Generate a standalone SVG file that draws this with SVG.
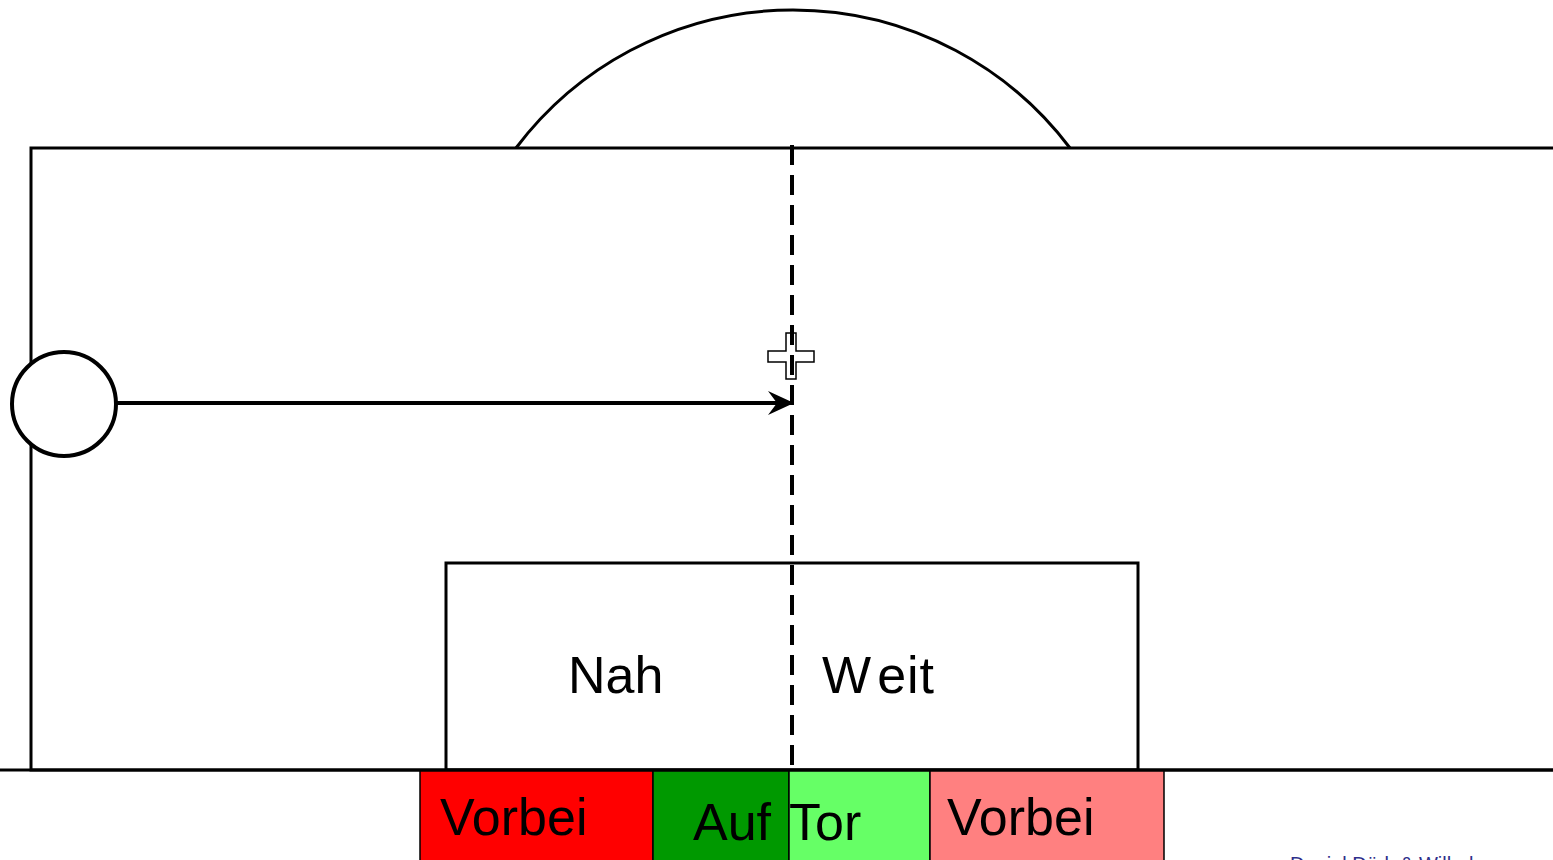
<svg xmlns="http://www.w3.org/2000/svg" width="1553" height="860" viewBox="0 0 1553 860">
<style>
.ln{fill:none;stroke:#000;stroke-width:3}
.t{font-family:"Liberation Sans",Arial,sans-serif;font-size:52px;fill:#000}
.box{stroke:#000;stroke-width:1.5}
</style>
<defs>
<marker id="ah" viewBox="0 0 26 26" refX="24" refY="13" markerWidth="26" markerHeight="26" markerUnits="userSpaceOnUse" orient="auto">
<path d="M0,1 L26,13 L0,25 L9,13 Z" fill="#000"/>
</marker>
</defs>
<rect width="1553" height="860" fill="#fff"/>
<g id="field">
<path class="ln" d="M516,148 A347,347 0 0 1 1070,148"/>
<rect class="ln" x="31" y="148" width="1540" height="622"/>
<line class="ln" x1="0" y1="770" x2="1553" y2="770"/>
</g>
<g id="goalbox">
<rect class="ln" x="446" y="563" width="692" height="207"/>
<text class="t" x="568" y="693">Nah</text>
<text class="t" x="822" y="693" letter-spacing="1"><tspan>W</tspan><tspan dx="6">eit</tspan></text>
</g>
<g id="zones">
<rect class="box" x="420" y="771" width="233" height="100" fill="#ff0000"/>
<rect class="box" x="653" y="771" width="136" height="100" fill="#009900"/>
<rect class="box" x="789" y="771" width="141" height="100" fill="#66ff66"/>
<rect class="box" x="930" y="771" width="234" height="100" fill="#ff8080"/>
<text class="t" x="440" y="835">Vorbei</text>
<text class="t" x="693" y="840">Auf</text>
<text class="t" x="789" y="840">Tor</text>
<text class="t" x="947" y="835">Vorbei</text>
</g>
<g id="spot">
<path d="M786,333 H796 V351 H814 V362 H796 V379 H786 V362 H768 V351 H786 Z" fill="#fff" stroke="#000" stroke-width="1.5"/>
</g>
<g id="connectors">
<line x1="792" y1="145" x2="792" y2="770" stroke="#000" stroke-width="4" stroke-dasharray="20,10"/>
<line x1="116" y1="403" x2="792" y2="403" stroke="#000" stroke-width="4" marker-end="url(#ah)"/>
</g>
<g id="player">
<circle cx="64" cy="404" r="52" fill="#fff" stroke="#000" stroke-width="4"/>
</g>
<text x="1290" y="871" font-family="Liberation Sans,Arial,sans-serif" font-size="20" fill="#2e2e8a">Daniel Dörk &amp; Wilhelm</text>
</svg>
